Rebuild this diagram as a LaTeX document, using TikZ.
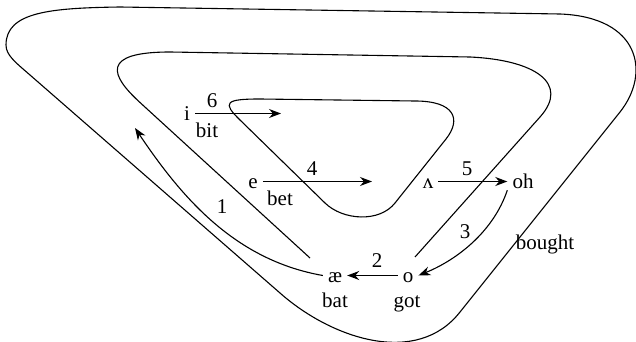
\documentclass[tikz,border=0pt]{standalone}
\usepackage{fontspec}
\setmainfont{Liberation Serif}
\usetikzlibrary{arrows.meta}

\begin{document}
\begin{tikzpicture}[x=1pt, y=-1pt, every node/.style={font=\fontsize{21}{25}\selectfont, inner sep=2pt},
  vowel/.style={anchor=base, text height=13pt, text depth=0pt, inner xsep=5pt},
  word/.style={anchor=base},
  loop/.style={line width=1.1pt, line join=round},
  arr/.style={line width=1.1pt, -{Stealth[length=12pt,width=9pt]}}]
  \useasboundingbox (0,0) rectangle (636,342);
  % the three loops of the shift
  \draw[loop] (6,45) .. controls (6,12) and (50,8) .. (120,7) -- (560,14)
    .. controls (640,17) and (651,73) .. (620,112) -- (460,312)
    .. controls (417,367) and (332,339) .. (280,293) -- (30,75)
    .. controls (15,62) and (6,55) .. (6,45) -- cycle;
  \draw[loop] (310,258) -- (140,102.5) .. controls (110.5,75.5) and (100,52) .. (170,52) -- (470,57)
    .. controls (535,60) and (570,83.5) .. (540,117) -- (415,257);
  \draw[loop] (260,99) -- (415,101) .. controls (455,101) and (461.5,119.4) .. (446,139) -- (395,203)
    .. controls (379.5,222.7) and (343,220.5) .. (325,203) -- (240,120)
    .. controls (222,102.5) and (225,99) .. (260,99) -- cycle;
  % vowels
  \node[vowel] (i) at (187,120) {i};
  \node[vowel] (e) at (253,188) {e};
  \node[vowel] (wedge) at (428,188) {ʌ};
  \node[vowel] (oh) at (523,188) {oh};
  \node[vowel] (ae) at (335,282) {æ};
  \node[vowel] (o) at (408,282) {o};
  % key words
  \node[word] (bit) at (207,137) {bit};
  \node[word] (bet) at (280,205) {bet};
  \node[word] (bat) at (335,307) {bat};
  \node[word] (got) at (407,307) {got};
  \node[word] (bought) at (545,249) {bought};
  % steps
  \node[word] (n1) at (222,213) {1};
  \node[word] (n2) at (377,267) {2};
  \node[word] (n3) at (465,238) {3};
  \node[word] (n4) at (312,175) {4};
  \node[word] (n5) at (467,175) {5};
  \node[word] (n6) at (212,107) {6};
  \coordinate (t1) at (135,128);
  \coordinate (t4) at (372,181.5);
  \coordinate (t6) at (281,113.5);
  \draw[arr] (ae.west) .. controls (235,260) and (182,198) .. (t1);
  \draw[arr] (o) -- (ae);
  \draw[arr] (oh.south west) .. controls (494,230) and (459,259) .. (o.east);
  \draw[arr] (e) -- (t4);
  \draw[arr] (wedge) -- (oh);
  \draw[arr] (i) -- (t6);
\end{tikzpicture}
\end{document}
